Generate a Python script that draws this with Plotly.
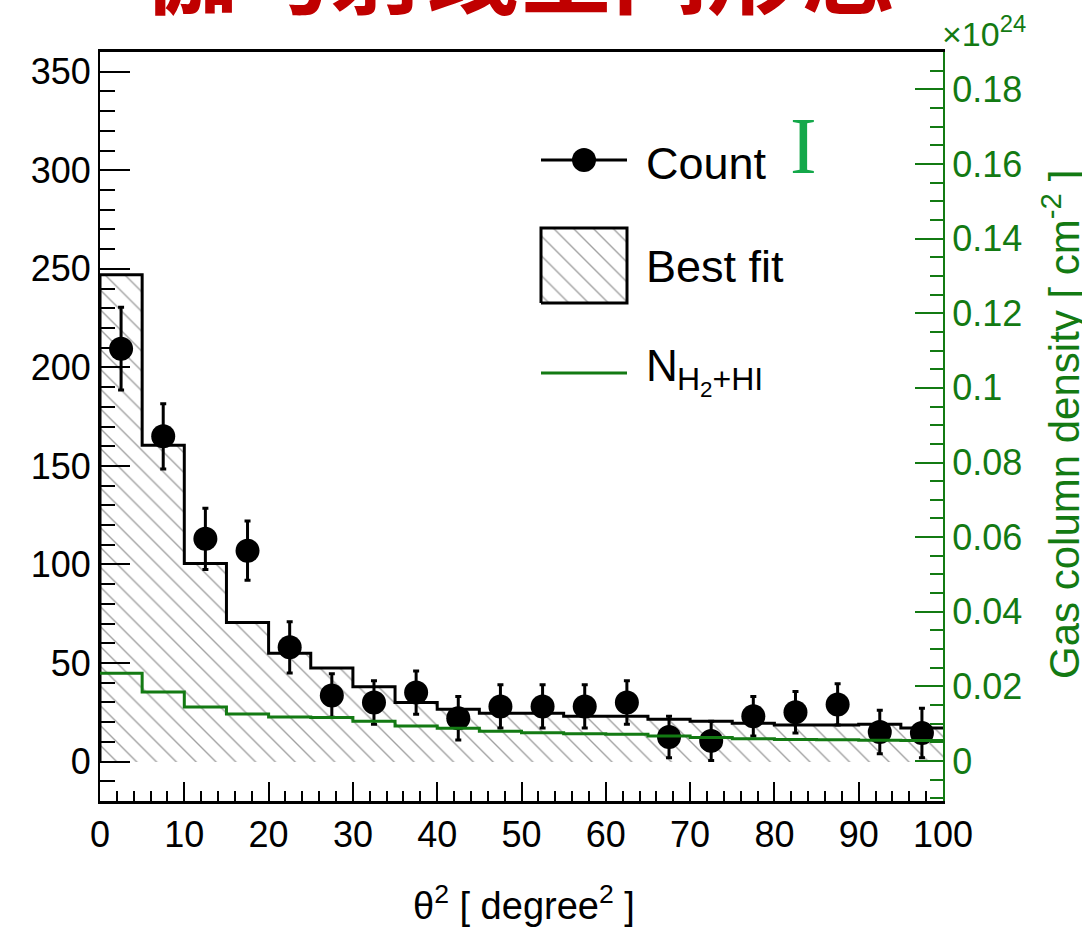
import plotly.graph_objects as go

# ---------------- data ----------------
bin_edges = [0, 5, 10, 15, 20, 25, 30, 35, 40, 45, 50, 55, 60, 65, 70, 75, 80, 85, 90, 95, 100]
bin_centers = [2.5, 7.5, 12.5, 17.5, 22.5, 27.5, 32.5, 37.5, 42.5, 47.5,
               52.5, 57.5, 62.5, 67.5, 72.5, 77.5, 82.5, 87.5, 92.5, 97.5]
counts = [209.5, 165, 113, 107, 58, 33.5, 30, 35, 22, 28,
          28, 28, 30, 12.5, 10.5, 23, 25, 29, 15, 14.5]
count_err = [21, 16.5, 15.5, 15, 13, 11, 11, 11, 11, 11,
             11, 11, 11, 10.5, 10, 10, 10.5, 10.5, 11, 12.5]
best_fit = [247, 160.5, 100.5, 70.5, 55, 47.5, 38, 30, 26.5, 24.5,
            24.5, 23, 23, 21.5, 20.5, 19.5, 18.5, 18.5, 19, 17]
# gas column density, units of 1e24 cm^-2
gas_density = [0.0235, 0.0185, 0.0145, 0.0126, 0.0118, 0.0117, 0.0107, 0.0094, 0.0088, 0.0080,
               0.0076, 0.0073, 0.0072, 0.0067, 0.0063, 0.0060, 0.0058, 0.0057, 0.0056, 0.0055]
y2_ticks = [0, 0.02, 0.04, 0.06, 0.08, 0.1, 0.12, 0.14, 0.16, 0.18]
y2_ticktext = ["0", "0.02", "0.04", "0.06", "0.08", "0.1", "0.12", "0.14", "0.16", "0.18"]

FONT = "Liberation Sans, Arial, Helvetica, sans-serif"
GREEN = "#137a13"
W, H = 1082, 931
L, R, T, B = 100, 139, 52, 130
PW, PH = W - L - R, H - T - B


def px(x):
    return (x - L) / PW


def py(y):
    return (H - B - y) / PH


hatch = dict(shape="\\", fgcolor="#444444", bgcolor="white", size=14, solidity=0.1)

fig = go.Figure()

# hatched best-fit histogram
fig.add_trace(go.Bar(
    x=bin_centers, y=best_fit, width=5, base=0,
    marker=dict(color="white", line=dict(width=0), pattern=hatch),
    showlegend=False, hoverinfo="skip"))

# histogram outline
fig.add_trace(go.Scatter(
    x=[bin_edges[0]] + bin_edges, y=[0] + best_fit + [best_fit[-1]],
    mode="lines", line=dict(color="black", width=3, shape="hv"),
    showlegend=False, hoverinfo="skip"))

# gas column density step line
fig.add_trace(go.Scatter(
    x=bin_edges, y=gas_density + [gas_density[-1]], yaxis="y2",
    mode="lines", line=dict(color=GREEN, width=3, shape="hv"),
    showlegend=False, hoverinfo="skip"))

# counts with errors
fig.add_trace(go.Scatter(
    x=bin_centers, y=counts, mode="markers",
    marker=dict(color="black", size=24),
    error_y=dict(type="data", array=count_err, color="black", thickness=3, width=3),
    showlegend=False))

# ---------------- manual legend (overlay axes in paper units) ----------------
lx0, lx1 = px(541), px(627)
fig.add_trace(go.Scatter(x=[lx0, lx1], y=[py(160), py(160)], xaxis="x3", yaxis="y3",
                         mode="lines", line=dict(color="black", width=3),
                         showlegend=False, hoverinfo="skip"))
fig.add_trace(go.Scatter(x=[px(584)], y=[py(160)], xaxis="x3", yaxis="y3",
                         mode="markers", marker=dict(color="black", size=24),
                         showlegend=False, hoverinfo="skip"))
by0, by1 = py(303), py(228)
fig.add_trace(go.Scatter(x=[lx0, lx1, lx1, lx0, lx0], y=[by0, by0, by1, by1, by0],
                         xaxis="x3", yaxis="y3", mode="lines", fill="toself",
                         fillcolor="white", fillpattern=hatch,
                         line=dict(color="black", width=3),
                         showlegend=False, hoverinfo="skip"))
fig.add_trace(go.Scatter(x=[lx0, lx1], y=[py(373), py(373)], xaxis="x3", yaxis="y3",
                         mode="lines", line=dict(color=GREEN, width=3),
                         showlegend=False, hoverinfo="skip"))

ann = []
ann.append(dict(text="Count", x=px(644), y=py(163), xref="paper", yref="paper",
                xanchor="left", yanchor="middle", showarrow=False,
                font=dict(family=FONT, size=45, color="black")))
ann.append(dict(text="Best fit", x=px(644), y=py(266), xref="paper", yref="paper",
                xanchor="left", yanchor="middle", showarrow=False,
                font=dict(family=FONT, size=45, color="black")))
ann.append(dict(text="N", x=px(644), y=py(365), xref="paper", yref="paper",
                xanchor="left", yanchor="middle", showarrow=False,
                font=dict(family=FONT, size=44, color="black")))
ann.append(dict(text="H<sub>2</sub>+HI", x=px(675), y=py(382), xref="paper", yref="paper",
                xanchor="left", yanchor="middle", showarrow=False,
                font=dict(family=FONT, size=32, color="black")))
ann.append(dict(text="I", x=px(803), y=py(146), xref="paper", yref="paper",
                xanchor="center", yanchor="middle", showarrow=False,
                font=dict(family="Liberation Serif, Times New Roman, serif", size=80, color="#14a84a")))
ann.append(dict(text="×10<sup>24</sup>", x=px(940), y=py(32), xref="paper", yref="paper",
                xanchor="left", yanchor="middle", showarrow=False,
                font=dict(family=FONT, size=34, color=GREEN)))
ann.append(dict(text="Gas column density [ cm<sup>-2</sup> ]", x=px(1061), y=py(425),
                xref="paper", yref="paper", xanchor="center", yanchor="middle",
                textangle=-90, showarrow=False,
                font=dict(family=FONT, size=42, color=GREEN)))
ann.append(dict(text="θ<sup>2</sup> [ degree<sup>2</sup> ]", x=px(524), y=py(903),
                xref="paper", yref="paper", xanchor="center", yanchor="middle",
                showarrow=False, font=dict(family=FONT, size=38, color="black")))
ann.append(dict(text="<b>伽马射线空间形态</b>", x=px(519), y=py(-34),
                xref="paper", yref="paper", xanchor="center", yanchor="middle",
                showarrow=False,
                font=dict(family="Noto Sans CJK SC", size=94, color="#c00000")))

fig.update_layout(
    width=W, height=H,
    margin=dict(l=L, r=R, t=T, b=B, pad=0),
    paper_bgcolor="white", plot_bgcolor="white",
    showlegend=False, bargap=0,
    font=dict(family=FONT, size=36, color="black"),
    xaxis=dict(range=[0, 100], tick0=0, dtick=10, ticks="inside", ticklen=19, tickwidth=2,
               tickcolor="black", showline=True, linecolor="black", linewidth=3, mirror=True,
               showgrid=False, zeroline=False, tickfont=dict(size=36),
               minor=dict(dtick=2, ticks="inside", ticklen=10, tickwidth=2, tickcolor="black", showgrid=False)),
    yaxis=dict(range=[-20, 360], tick0=0, dtick=50, ticks="inside", ticklen=30, tickwidth=2,
               tickcolor="black", showline=True, linecolor="black", linewidth=2,
               showgrid=False, zeroline=False, tickfont=dict(size=36),
               minor=dict(dtick=10, tick0=0, ticks="inside", ticklen=15, tickwidth=2, tickcolor="black", showgrid=False)),
    yaxis2=dict(range=[-0.0107, 0.19], overlaying="y", side="right", anchor="x",
                tickmode="array", tickvals=y2_ticks, ticktext=y2_ticktext,
                ticks="inside", ticklen=28, tickwidth=2, tickcolor=GREEN,
                showline=True, linecolor=GREEN, linewidth=2, showgrid=False, zeroline=False,
                tickfont=dict(size=36, color=GREEN),
                minor=dict(dtick=0.005, tick0=0, ticks="inside", ticklen=13, tickwidth=2, tickcolor=GREEN, showgrid=False)),
    xaxis3=dict(range=[0, 1], overlaying="x", anchor="y3", visible=False, fixedrange=True),
    yaxis3=dict(range=[0, 1], overlaying="y", anchor="x3", visible=False, fixedrange=True),
    annotations=ann,
)

fig.write_html("out.html", config={"displayModeBar": False},
               post_script="document.body.style.margin='0';document.body.style.overflow='hidden';")
